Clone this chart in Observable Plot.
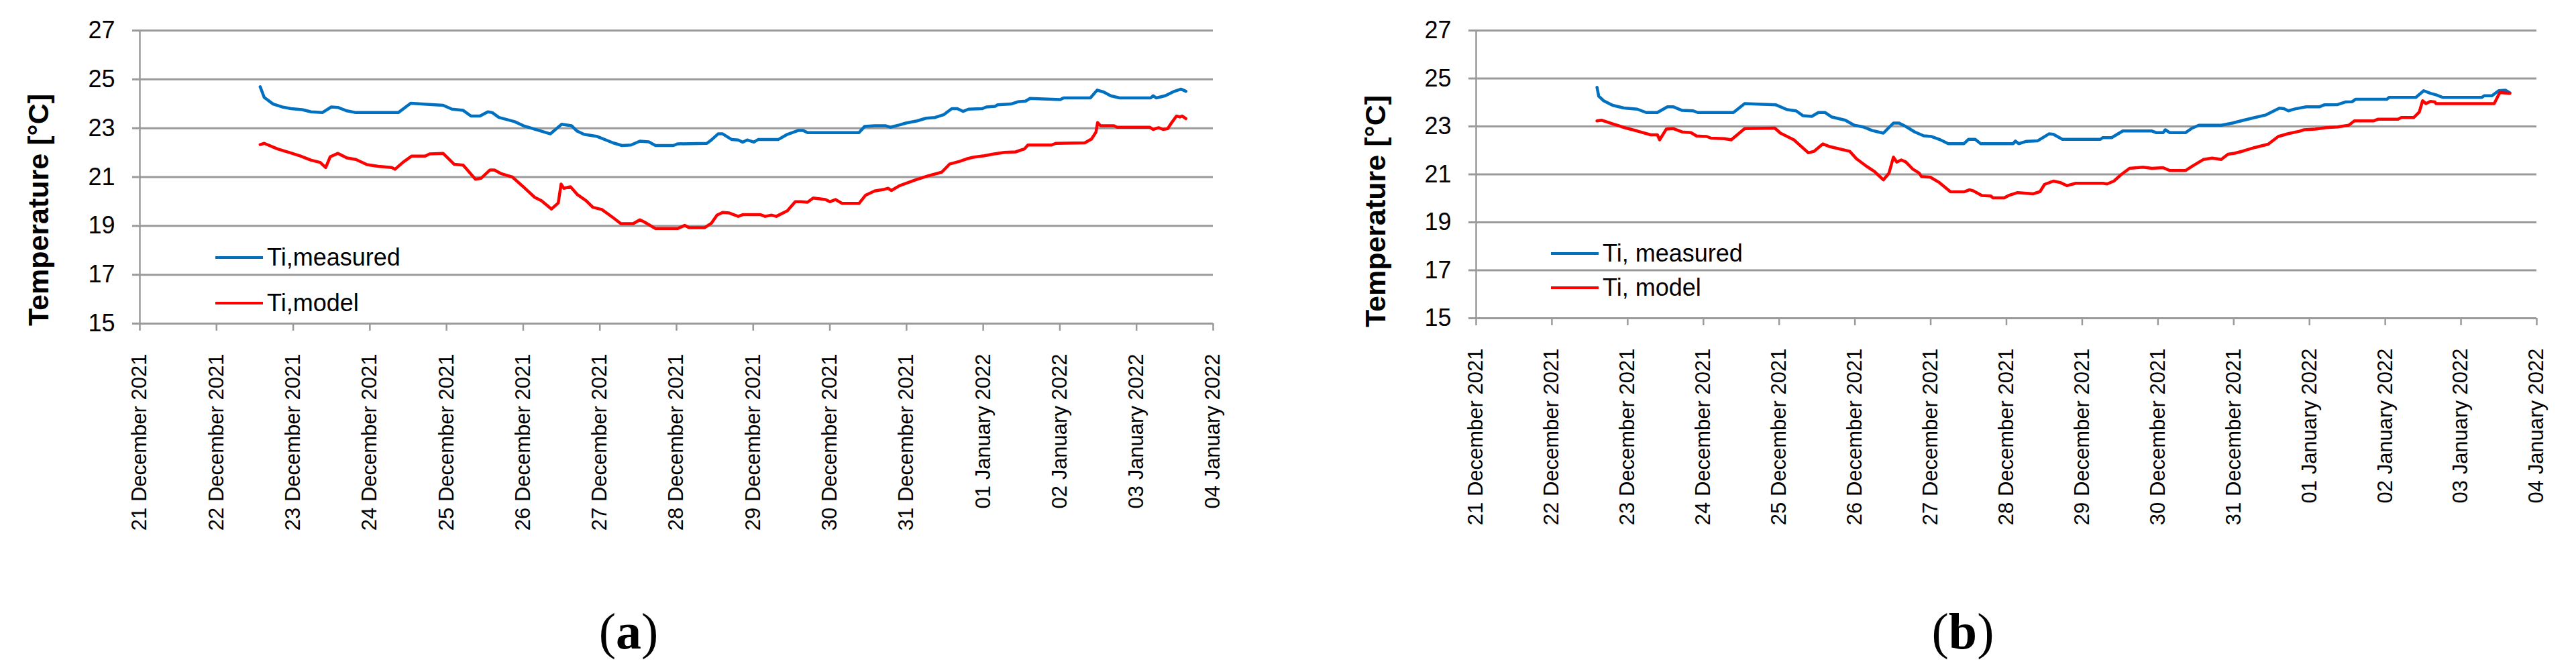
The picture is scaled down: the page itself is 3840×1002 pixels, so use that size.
<!DOCTYPE html>
<html>
<head>
<meta charset="utf-8">
<script src="https://cdn.jsdelivr.net/npm/d3@7"></script>
<script src="https://cdn.jsdelivr.net/npm/@observablehq/plot@0.6"></script>
<style>
  html, body { margin: 0; padding: 0; background: #fff; }
  body { width: 3840px; height: 1002px; position: relative; overflow: hidden;
         font-family: "Liberation Sans", Arial, sans-serif; color: #000; }
  .panel { position: absolute; top: 0; }
  .ytitle { position: absolute; font-weight: bold; font-size: 43px; white-space: nowrap;
            transform: translate(-50%, -50%) rotate(-90deg); line-height: 1; }
  .leg { position: absolute; display: flex; align-items: center; height: 40px; transform: translateY(-50%);
         font-size: 36px; white-space: nowrap; }
  .leg .sw { display: inline-block; width: 71px; height: 4.5px; margin-right: 6px; }
  .caption { position: absolute; font-family: "Liberation Serif", "Times New Roman", serif; font-size: 76px;
             line-height: 1; transform: translate(-50%, -50%); white-space: nowrap; }
</style>
</head>
<body>
<script>
// ---- data (x = days after 21 December 2021 00:00, y = temperature °C) ----
const tickLabels = ["2021-12-21","2021-12-22","2021-12-23","2021-12-24","2021-12-25","2021-12-26","2021-12-27",
  "2021-12-28","2021-12-29","2021-12-30","2021-12-31","2022-01-01","2022-01-02","2022-01-03","2022-01-04"];
const yTicks = [15, 17, 19, 21, 23, 25, 27];

const measuredA = [[1.569,24.70],[1.622,24.26],[1.738,23.99],[1.855,23.87],[1.972,23.80],[2.117,23.76],[2.234,23.67],
 [2.380,23.64],[2.497,23.87],[2.584,23.85],[2.701,23.71],[2.817,23.64],[3.371,23.64],[3.532,24.02],[3.955,23.94],
 [4.071,23.78],[4.217,23.73],[4.319,23.50],[4.436,23.50],[4.538,23.67],[4.596,23.64],[4.684,23.44],[4.888,23.27],
 [5.005,23.10],[5.180,22.93],[5.355,22.77],[5.500,23.16],[5.632,23.10],[5.704,22.88],
 [5.792,22.75],[5.967,22.66],[6.172,22.40],[6.288,22.29],[6.405,22.31],[6.522,22.47],[6.638,22.44],[6.726,22.29],
 [6.959,22.29],[7.017,22.36],[7.396,22.38],[7.455,22.52],[7.542,22.77],[7.601,22.77],[7.717,22.54],[7.805,22.52],
 [7.863,22.43],[7.921,22.52],[8.009,22.43],[8.067,22.54],[8.330,22.54],[8.446,22.75],[8.592,22.91],[8.650,22.91],
 [8.709,22.82],[9.380,22.82],[9.453,23.07],[9.584,23.10],[9.729,23.10],[9.788,23.04],[9.904,23.13],
 [9.992,23.21],[10.138,23.30],[10.255,23.41],[10.372,23.44],[10.488,23.56],[10.590,23.80],[10.663,23.80],
 [10.736,23.69],[10.809,23.78],[10.984,23.80],[11.042,23.87],[11.159,23.90],[11.188,23.96],[11.363,23.99],
 [11.451,24.08],[11.553,24.11],[11.611,24.22],[12.005,24.17],[12.048,24.24],[12.398,24.24],[12.486,24.56],
 [12.573,24.48],[12.661,24.33],[12.777,24.24],[13.186,24.24],[13.215,24.33],[13.259,24.24],[13.375,24.33],
 [13.477,24.49],[13.579,24.60],[13.644,24.51]];

const modelA = [[1.569,22.33],[1.622,22.38],[1.797,22.15],[1.942,22.01],[2.088,21.87],[2.234,21.69],[2.351,21.60],
 [2.424,21.39],[2.482,21.83],[2.584,21.97],[2.701,21.78],[2.817,21.72],[2.963,21.51],[3.109,21.44],[3.284,21.39],
 [3.328,21.32],[3.430,21.60],[3.546,21.86],[3.721,21.86],[3.780,21.95],[3.955,21.97],[4.101,21.52],[4.217,21.49],
 [4.377,20.91],[4.450,20.95],[4.567,21.29],[4.625,21.29],[4.713,21.14],[4.859,21.00],[5.005,20.59],[5.150,20.17],
 [5.238,20.03],[5.369,19.69],[5.457,19.94],[5.494,20.71],[5.529,20.54],[5.617,20.60],[5.704,20.29],
 [5.822,20.03],[5.909,19.76],[6.026,19.67],[6.172,19.34],[6.274,19.09],[6.434,19.09],[6.522,19.25],[6.580,19.16],
 [6.726,18.89],[7.017,18.89],[7.105,19.02],[7.163,18.93],[7.367,18.93],[7.455,19.11],[7.528,19.44],[7.601,19.55],
 [7.688,19.53],[7.805,19.39],[7.863,19.46],[8.096,19.46],[8.155,19.39],[8.242,19.44],[8.301,19.39],[8.446,19.62],
 [8.548,19.99],[8.621,19.99],[8.709,19.97],[8.782,20.14],[8.942,20.08],[9.000,19.99],[9.073,20.08],[9.161,19.92],
 [9.380,19.92],[9.467,20.26],[9.584,20.43],[9.700,20.49],[9.759,20.54],[9.803,20.45],[9.904,20.64],
 [9.992,20.74],[10.138,20.91],[10.284,21.05],[10.459,21.20],[10.561,21.53],[10.692,21.64],[10.780,21.74],
 [10.867,21.81],[11.013,21.87],[11.130,21.94],[11.276,22.01],[11.422,22.03],[11.538,22.15],[11.582,22.31],
 [11.888,22.31],[11.946,22.38],[12.325,22.40],[12.413,22.56],[12.471,22.84],[12.492,23.23],[12.530,23.10],
 [12.705,23.10],[12.748,23.04],[13.171,23.04],[13.215,22.95],[13.288,23.02],[13.346,22.95],[13.405,22.98],
 [13.463,23.25],[13.521,23.50],[13.565,23.46],[13.594,23.50],[13.644,23.39]];

const measuredB = [[1.595,24.63],[1.618,24.26],[1.683,24.07],[1.801,23.88],[1.949,23.77],[2.126,23.72],[2.244,23.58],
 [2.392,23.58],[2.525,23.82],[2.599,23.82],[2.717,23.67],[2.865,23.65],[2.924,23.58],[3.396,23.58],[3.544,23.95],
 [3.957,23.90],[4.105,23.70],[4.223,23.65],[4.312,23.45],[4.430,23.42],[4.518,23.58],[4.607,23.58],[4.696,23.39],
 [4.873,23.26],[4.991,23.05],[5.109,22.98],[5.227,22.83],[5.375,22.72],[5.508,23.14],[5.582,23.14],[5.670,23.00],
 [5.789,22.77],[5.907,22.61],[6.011,22.58],[6.114,22.46],[6.232,22.28],[6.439,22.28],[6.498,22.46],[6.587,22.46],
 [6.660,22.28],[7.089,22.28],[7.118,22.39],[7.162,22.28],[7.266,22.38],[7.413,22.40],[7.561,22.69],[7.620,22.67],
 [7.738,22.46],[8.240,22.46],[8.270,22.53],[8.388,22.53],[8.536,22.81],[8.920,22.81],[8.979,22.74],[9.067,22.74],
 [9.097,22.86],[9.156,22.74],[9.363,22.74],[9.451,22.93],[9.540,23.05],[9.835,23.05],
 [9.983,23.14],[10.130,23.26],[10.278,23.37],[10.426,23.48],[10.603,23.76],[10.662,23.74],[10.721,23.65],
 [10.810,23.73],[10.957,23.82],[11.134,23.82],[11.194,23.90],[11.371,23.91],[11.474,24.02],[11.563,24.03],
 [11.607,24.13],[12.021,24.13],[12.050,24.21],[12.404,24.21],[12.508,24.49],[12.596,24.38],[12.670,24.32],
 [12.759,24.21],[13.276,24.21],[13.305,24.28],[13.409,24.28],[13.497,24.49],[13.586,24.51],[13.645,24.40]];

const modelB = [[1.595,23.23],[1.654,23.26],[1.801,23.11],[1.979,22.93],[2.126,22.81],[2.303,22.65],[2.392,22.65],
 [2.422,22.44],[2.510,22.89],[2.599,22.91],[2.717,22.77],[2.835,22.74],[2.909,22.60],[3.042,22.58],[3.101,22.51],
 [3.278,22.49],[3.367,22.44],[3.544,22.91],[3.942,22.93],[4.016,22.72],[4.194,22.44],[4.385,21.90],[4.459,21.96],
 [4.577,22.27],[4.666,22.16],[4.784,22.07],[4.932,21.96],[5.020,21.65],[5.139,21.37],[5.257,21.12],[5.375,20.77],
 [5.449,21.05],[5.508,21.72],[5.552,21.51],[5.611,21.60],[5.670,21.52],
 [5.760,21.23],[5.848,21.05],[5.878,20.91],[5.996,20.88],[6.114,20.66],[6.262,20.27],[6.439,20.27],[6.513,20.36],
 [6.557,20.32],[6.675,20.12],[6.793,20.10],[6.823,20.02],[6.970,20.02],[7.030,20.12],[7.148,20.24],[7.354,20.19],
 [7.443,20.28],[7.502,20.58],[7.620,20.72],[7.709,20.66],[7.797,20.53],[7.915,20.63],[8.270,20.63],[8.329,20.60],
 [8.418,20.72],[8.506,20.97],[8.624,21.25],[8.802,21.30],[8.920,21.25],[9.067,21.28],[9.156,21.16],[9.363,21.16],
 [9.451,21.34],[9.599,21.62],[9.717,21.68],[9.835,21.62],
 [9.924,21.84],[10.012,21.88],[10.130,21.98],[10.278,22.12],[10.455,22.26],[10.588,22.58],[10.721,22.70],
 [10.869,22.80],[10.928,22.86],[11.075,22.89],[11.223,22.95],[11.371,22.98],[11.518,23.05],[11.592,23.23],
 [11.843,23.23],[11.902,23.30],[12.168,23.30],[12.212,23.37],[12.375,23.37],[12.449,23.60],[12.493,24.07],
 [12.537,23.95],[12.596,24.04],[12.655,24.02],[12.670,23.95],[13.438,23.95],[13.512,24.41],[13.645,24.38]];

// ---- styling ----
const BLUE = "#0070c0", RED = "#ff0000", GRID = "#9a9a9a";
const FONT = "'Liberation Sans', Arial, sans-serif";

const DAY0 = Date.UTC(2021, 11, 21);
const toRows = pairs => pairs.map(([d, v]) => ({date: new Date(DAY0 + d * 864e5), value: v}));
const tickDates = tickLabels.map(s => new Date(s + "T00:00:00Z"));

function panel({measured, model, left, marginLeft, marginRight, marginBottom}) {
  const svg = Plot.plot({
    width: 1920, height: 860,
    marginTop: 45, marginLeft, marginRight, marginBottom,
    style: {fontFamily: FONT, fontSize: "36px", color: "#000", background: "transparent", overflow: "visible"},
    x: {type: "utc", domain: [tickDates[0], tickDates[tickDates.length - 1]]},
    y: {domain: [15, 27]},
    marks: [
      Plot.gridY(yTicks, {stroke: GRID, strokeOpacity: 1, strokeWidth: 3}),
      Plot.ruleX([tickDates[0]], {stroke: GRID, strokeWidth: 2.5}),
      Plot.axisY(yTicks, {tickSize: 11, tickPadding: 26, stroke: GRID, strokeWidth: 3, fill: "#000",
                          fontSize: 36, label: null}),
      Plot.axisX(tickDates, {tickSize: 11, tickPadding: 34, tickRotate: -90, tickFormat: d3.utcFormat("%d %B %Y"),
                             stroke: GRID, strokeWidth: 2.5, fill: "#000", fontSize: 31, label: null}),
      Plot.line(toRows(measured), {x: "date", y: "value", stroke: BLUE, strokeWidth: 4.5}),
      Plot.line(toRows(model), {x: "date", y: "value", stroke: RED, strokeWidth: 4.5})
    ]
  });
  const wrap = document.createElement("div");
  wrap.className = "panel";
  wrap.style.left = left + "px";
  wrap.appendChild(svg);
  document.body.appendChild(wrap);
}

function addDiv(cls, html, x, y) {
  const d = document.createElement("div");
  d.className = cls;
  d.innerHTML = html;
  d.style.left = x + "px";
  d.style.top = y + "px";
  document.body.appendChild(d);
  return d;
}
function legendItem(x, y, color, label) {
  addDiv("leg", `<span class="sw" style="background:${color}"></span><span>${label}</span>`, x, y);
}

panel({measured: measuredA, model: modelA, left: 0, marginLeft: 208, marginRight: 112, marginBottom: 378});
panel({measured: measuredB, model: modelB, left: 1920, marginLeft: 280, marginRight: 59, marginBottom: 386});

addDiv("ytitle", "Temperature [°C]", 57, 313);
addDiv("ytitle", "Temperature [°C]", 2050, 315);

legendItem(321, 384, BLUE, "Ti,measured");
legendItem(321, 452, RED, "Ti,model");
legendItem(2312, 378, BLUE, "Ti, measured");
legendItem(2312, 429, RED, "Ti, model");

addDiv("caption", "(<b>a</b>)", 937, 941);
addDiv("caption", "(<b>b</b>)", 2926, 941);
</script>
</body>
</html>
